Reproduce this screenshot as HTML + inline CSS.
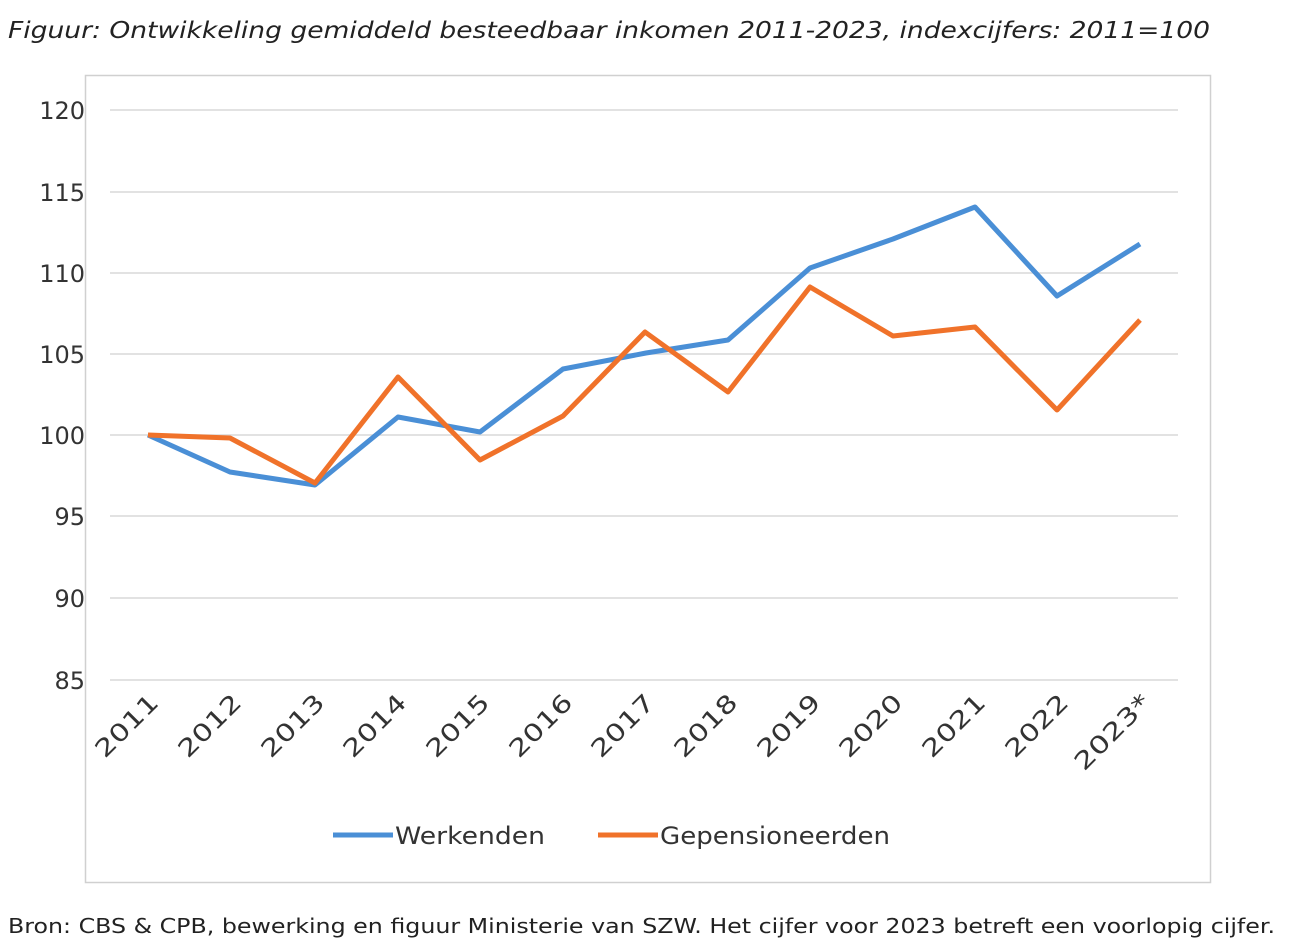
<!DOCTYPE html>
<html><head><meta charset="utf-8"><style>
html,body{margin:0;padding:0;background:#fff;}
body{width:1299px;height:945px;position:relative;overflow:hidden;font-family:"DejaVu Sans","Liberation Sans",sans-serif;}
</style></head><body>
<svg width="1299" height="945" xmlns="http://www.w3.org/2000/svg" style="position:absolute;left:0;top:0">
<text x="8" y="38" font-size="23" font-style="italic" fill="#222" textLength="1202" lengthAdjust="spacingAndGlyphs" font-family="DejaVu Sans, sans-serif">Figuur: Ontwikkeling gemiddeld besteedbaar inkomen 2011-2023, indexcijfers: 2011=100</text>
<rect x="85.5" y="75.5" width="1125" height="807" fill="none" stroke="#d0d0d0" stroke-width="1.5"/>
<g stroke="#d9d9d9" stroke-width="1.5">
<line x1="110" x2="1178" y1="110" y2="110"/>
<line x1="110" x2="1178" y1="192" y2="192"/>
<line x1="110" x2="1178" y1="273" y2="273"/>
<line x1="110" x2="1178" y1="354" y2="354"/>
<line x1="110" x2="1178" y1="435" y2="435"/>
<line x1="110" x2="1178" y1="516" y2="516"/>
<line x1="110" x2="1178" y1="598" y2="598"/>
<line x1="110" x2="1178" y1="680" y2="680"/>
</g>
<g font-size="24" fill="#333" text-anchor="end" font-family="DejaVu Sans, sans-serif">
<text x="85" y="119">120</text><text x="85" y="201">115</text><text x="85" y="282">110</text><text x="85" y="363">105</text>
<text x="85" y="444">100</text><text x="85" y="525">95</text><text x="85" y="607">90</text><text x="85" y="689">85</text>
</g>
<g font-size="24" fill="#333" text-anchor="end" font-family="DejaVu Sans, sans-serif">
<text transform="translate(160,704) rotate(-45)" textLength="78" lengthAdjust="spacingAndGlyphs">2011</text>
<text transform="translate(243,704) rotate(-45)" textLength="78" lengthAdjust="spacingAndGlyphs">2012</text>
<text transform="translate(326,704) rotate(-45)" textLength="78" lengthAdjust="spacingAndGlyphs">2013</text>
<text transform="translate(408,704) rotate(-45)" textLength="78" lengthAdjust="spacingAndGlyphs">2014</text>
<text transform="translate(491,704) rotate(-45)" textLength="78" lengthAdjust="spacingAndGlyphs">2015</text>
<text transform="translate(574,704) rotate(-45)" textLength="78" lengthAdjust="spacingAndGlyphs">2016</text>
<text transform="translate(656,704) rotate(-45)" textLength="78" lengthAdjust="spacingAndGlyphs">2017</text>
<text transform="translate(739,704) rotate(-45)" textLength="78" lengthAdjust="spacingAndGlyphs">2018</text>
<text transform="translate(822,704) rotate(-45)" textLength="78" lengthAdjust="spacingAndGlyphs">2019</text>
<text transform="translate(904,704) rotate(-45)" textLength="78" lengthAdjust="spacingAndGlyphs">2020</text>
<text transform="translate(987,704) rotate(-45)" textLength="78" lengthAdjust="spacingAndGlyphs">2021</text>
<text transform="translate(1070,704) rotate(-45)" textLength="78" lengthAdjust="spacingAndGlyphs">2022</text>
<text transform="translate(1152,704) rotate(-45)" textLength="96" lengthAdjust="spacingAndGlyphs">2023*</text>
</g>
<polyline fill="none" stroke="#4a8fd6" stroke-width="5" stroke-linejoin="round" points="148,435 230,472 315,485 398,417 480,432 563,369 646,353 728,340 810,268 893,239 975,207 1057,296 1140,244"/>
<polyline fill="none" stroke="#f0722a" stroke-width="5" stroke-linejoin="round" points="148,435 230,438 315,483 398,377 480,460 563,416 645,332 728,392 810,287 893,336 975,327 1057,410 1140,320"/>
<line x1="333" x2="393" y1="835" y2="835" stroke="#4a8fd6" stroke-width="5"/>
<text x="395" y="844" font-size="24" fill="#333" textLength="150" lengthAdjust="spacingAndGlyphs" font-family="DejaVu Sans, sans-serif">Werkenden</text>
<line x1="598" x2="658" y1="835" y2="835" stroke="#f0722a" stroke-width="5"/>
<text x="660" y="844" font-size="24" fill="#333" textLength="230" lengthAdjust="spacingAndGlyphs" font-family="DejaVu Sans, sans-serif">Gepensioneerden</text>
<text x="8" y="933" font-size="20" fill="#222" textLength="1267" lengthAdjust="spacingAndGlyphs" font-family="DejaVu Sans, sans-serif">Bron: CBS &amp; CPB, bewerking en figuur Ministerie van SZW. Het cijfer voor 2023 betreft een voorlopig cijfer.</text>
</svg>
</body></html>
